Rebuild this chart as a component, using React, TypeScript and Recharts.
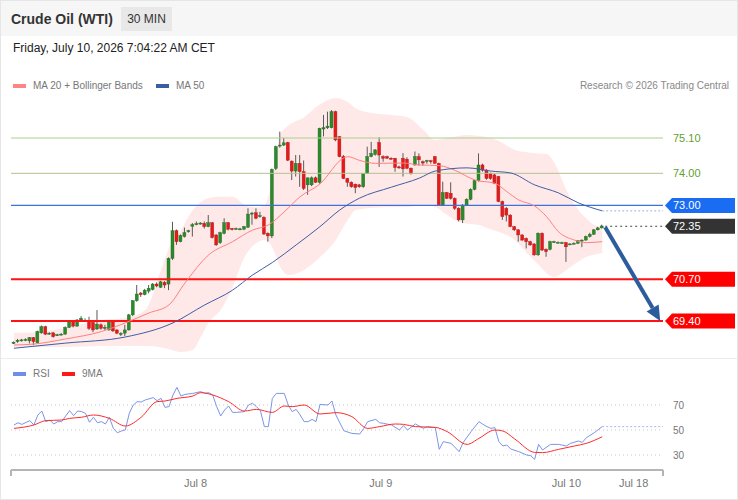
import React from 'react';
import { Area, Bar, ComposedChart, Line, LineChart, ReferenceLine, XAxis, YAxis } from 'recharts';

const FONT = '"Liberation Sans", Arial, Helvetica, sans-serif';

// 30 min candles, oldest first
const opens = [
  68.70, 68.76, 68.79, 68.80, 68.78, 68.88, 68.72, 69.03, 69.22, 69.00,
  69.03, 68.95, 68.97, 68.99, 69.20, 69.38, 69.24, 69.43, 69.42, 69.38,
  69.35, 69.15, 69.28, 69.18, 69.12, 69.38, 69.12, 68.98, 69.02, 69.12,
  69.59, 70.03, 70.27, 70.22, 70.33, 70.38, 70.55, 70.45, 70.60, 70.55,
  71.35, 72.21, 71.87, 72.03, 72.18, 72.35, 72.41, 72.43, 72.44, 72.34,
  72.46, 72.08, 71.84, 72.13, 72.46, 72.28, 72.27, 72.26, 72.26, 72.32,
  72.73, 72.77, 72.66, 72.63, 72.13, 72.05, 74.15, 74.86, 74.88, 74.96,
  74.38, 74.07, 74.31, 74.05, 73.64, 73.64, 73.86, 73.72, 75.38, 75.42,
  75.42, 75.92, 75.14, 74.52, 73.84, 73.72, 73.66, 73.64, 73.58, 74.00,
  74.52, 74.59, 74.96, 74.52, 74.52, 74.47, 74.47, 74.20, 74.47, 74.44,
  74.16, 74.26, 74.52, 74.36, 74.37, 74.39, 74.52, 74.31, 73.01, 73.40,
  73.38, 73.22, 72.91, 72.55, 73.01, 73.19, 73.50, 73.77, 74.26, 74.10,
  73.99, 73.95, 73.90, 73.12, 72.91, 72.70, 72.34, 72.24, 72.08, 71.97,
  71.87, 71.80, 71.46, 72.13, 71.63, 71.63, 71.87, 71.85, 71.84, 71.84,
  71.80, 71.82, 71.82, 71.90, 71.92, 72.03, 72.10, 72.24, 72.30,
];
const highs = [
  68.76, 68.84, 68.84, 68.86, 68.90, 68.90, 69.10, 69.26, 69.25, 69.05,
  69.05, 69.00, 69.02, 69.23, 69.41, 69.40, 69.46, 69.55, 69.48, 69.53,
  69.38, 69.74, 69.32, 69.28, 69.40, 69.40, 69.14, 69.05, 69.28, 69.62,
  70.05, 70.52, 70.30, 70.40, 70.52, 70.58, 70.60, 70.65, 70.64, 71.38,
  72.49, 72.25, 72.10, 72.31, 72.24, 72.45, 72.50, 72.48, 72.50, 72.70,
  72.48, 72.10, 72.18, 72.60, 72.48, 72.30, 72.31, 72.30, 72.36, 72.91,
  72.80, 72.91, 72.80, 72.66, 72.16, 74.15, 74.86, 75.30, 75.10, 74.98,
  74.40, 74.57, 74.57, 74.40, 73.86, 73.90, 73.90, 75.42, 75.82, 75.92,
  75.97, 75.95, 75.16, 74.57, 73.86, 73.75, 73.68, 73.67, 74.00, 74.83,
  74.98, 74.75, 75.12, 74.56, 74.55, 74.50, 74.48, 74.24, 74.63, 74.50,
  74.18, 74.68, 74.62, 74.40, 74.42, 74.42, 74.54, 74.33, 73.74, 73.42,
  73.72, 73.25, 72.94, 73.04, 73.22, 73.53, 73.80, 74.62, 74.30, 74.13,
  74.02, 73.98, 73.92, 73.15, 72.95, 72.72, 72.36, 72.26, 72.10, 72.00,
  71.90, 71.82, 72.16, 72.16, 71.66, 71.90, 71.90, 71.88, 71.87, 71.86,
  71.82, 71.85, 71.92, 71.94, 72.06, 72.15, 72.26, 72.33, 72.40,
];
const lows = [
  68.68, 68.72, 68.76, 68.77, 68.70, 68.65, 68.70, 69.00, 68.96, 68.97,
  68.88, 68.93, 68.95, 68.97, 69.18, 69.20, 69.22, 69.40, 69.37, 69.12,
  69.05, 69.12, 69.13, 69.12, 69.10, 69.06, 68.99, 68.93, 68.93, 69.10,
  69.55, 70.00, 70.15, 70.20, 70.26, 70.35, 70.45, 70.43, 70.42, 70.36,
  71.30, 71.77, 71.85, 72.00, 72.15, 72.03, 72.38, 72.40, 72.28, 72.32,
  71.97, 71.74, 71.80, 72.10, 72.22, 72.22, 72.24, 72.23, 72.23, 72.30,
  72.40, 72.57, 72.62, 72.08, 71.87, 71.98, 74.10, 74.80, 74.85, 74.38,
  73.79, 73.90, 73.58, 73.48, 73.33, 73.60, 73.70, 73.68, 75.15, 75.38,
  75.40, 75.00, 74.50, 73.82, 73.58, 73.55, 73.38, 73.55, 73.55, 73.98,
  74.50, 74.55, 74.20, 74.36, 74.45, 74.42, 74.05, 74.14, 73.90, 74.13,
  73.96, 74.24, 74.24, 74.24, 74.30, 74.30, 74.30, 73.00, 72.98, 73.20,
  73.18, 72.86, 72.50, 72.45, 72.98, 73.16, 73.47, 73.74, 74.05, 73.80,
  73.80, 73.66, 73.10, 72.55, 72.50, 72.32, 72.20, 71.87, 71.90, 71.66,
  71.74, 71.43, 71.43, 71.58, 71.40, 71.60, 71.84, 71.82, 71.81, 71.24,
  71.77, 71.79, 71.80, 71.70, 71.90, 72.00, 72.08, 72.22, 72.28,
];
const closes = [
  68.74, 68.80, 68.81, 68.82, 68.88, 68.76, 69.07, 69.22, 68.99, 69.02,
  68.91, 68.97, 68.99, 69.20, 69.38, 69.24, 69.43, 69.48, 69.40, 69.17,
  69.12, 69.30, 69.17, 69.20, 69.38, 69.09, 69.02, 69.01, 69.12, 69.59,
  70.03, 70.24, 70.22, 70.36, 70.42, 70.55, 70.49, 70.62, 70.52, 71.35,
  72.21, 71.87, 72.06, 72.15, 72.21, 72.40, 72.43, 72.45, 72.34, 72.46,
  72.00, 71.77, 72.15, 72.46, 72.26, 72.26, 72.28, 72.27, 72.34, 72.73,
  72.76, 72.60, 72.68, 72.11, 72.05, 74.12, 74.83, 74.88, 74.95, 74.41,
  74.07, 74.31, 74.05, 73.53, 73.86, 73.86, 73.72, 75.40, 75.42, 75.47,
  75.92, 75.04, 74.52, 73.84, 73.72, 73.58, 73.56, 73.58, 74.00, 74.52,
  74.62, 74.73, 74.57, 74.47, 74.47, 74.46, 74.18, 74.18, 74.14, 74.16,
  74.00, 74.52, 74.42, 74.32, 74.40, 74.36, 74.31, 73.01, 73.40, 73.22,
  73.22, 72.91, 72.55, 73.01, 73.19, 73.50, 73.77, 74.26, 74.10, 73.84,
  73.84, 73.69, 73.12, 72.65, 72.70, 72.34, 72.24, 72.08, 71.92, 71.87,
  71.77, 71.46, 72.13, 71.61, 71.56, 71.87, 71.87, 71.85, 71.84, 71.71,
  71.80, 71.82, 71.90, 71.92, 72.03, 72.10, 72.24, 72.30, 72.36,
];

// [candle index, value]
const ma20Points = [
  [0, 68.65], [5, 68.68], [13, 68.84], [22, 69.07], [28, 69.34], [34, 69.65], [39, 69.9], [43, 70.58],
  [49, 71.46], [55, 71.87], [60, 72.23], [64, 72.39], [68, 72.8], [72, 73.27], [77, 73.67], [83, 74.48],
  [84, 74.52], [87, 74.4], [91, 74.31], [98, 74.32], [102, 74.26], [107, 74.24], [111, 74.09], [116, 73.79],
  [121, 73.69], [124, 73.43], [127, 73.17], [131, 72.98], [134, 72.65], [137, 72.18], [141, 71.92], [144, 71.84],
  [148, 71.87],
];
const ma50Points = [
  [0, 68.55], [13, 68.71], [28, 68.9], [40, 69.34], [48, 69.9], [55, 70.36], [60, 70.83], [65, 71.22],
  [71, 71.77], [77, 72.34], [82, 72.86], [87, 73.23], [95, 73.57], [102, 73.85], [106, 74.07], [114, 74.17],
  [120, 74.07], [125, 74.01], [131, 73.64], [137, 73.39], [142, 73.08], [148, 72.83],
];
// [candle index, lower band, upper band]
const bandPoints = [
  [0, 68.59, 69.03], [6, 68.59, 69.05], [13, 68.59, 69.18], [22, 68.62, 69.43], [28, 68.62, 69.49],
  [33, 68.62, 69.74], [37, 68.58, 70.99], [39, 68.52, 71.67], [42, 68.43, 72.23], [45, 68.5, 72.86],
  [47, 68.9, 73.1], [49, 69.35, 73.23], [52, 69.74, 73.27], [55, 70.46, 73.27], [58, 71.39, 73.02],
  [61, 71.83, 72.94], [63, 71.92, 73.0], [65, 71.7, 73.8], [67, 71.08, 75.2], [69, 70.83, 75.48],
  [73, 70.99, 75.75], [77, 71.39, 76.15], [81, 71.92, 76.35], [84, 72.55, 76.22], [86, 72.86, 76.02],
  [90, 72.92, 75.88], [95, 72.95, 75.82], [99, 72.95, 75.75], [103, 73.01, 75.35], [106, 72.95, 75.04],
  [109, 72.7, 75.1], [112, 72.48, 75.16], [114, 72.43, 75.19], [117, 72.39, 75.16], [119, 72.3, 75.13],
  [122, 72.17, 75.01], [126, 71.92, 74.73], [129, 71.52, 74.66], [132, 71.15, 74.62], [134, 70.89, 74.6],
  [136, 70.77, 74.32], [139, 70.99, 73.48], [142, 71.25, 72.86], [144, 71.39, 72.6], [146, 71.47, 72.39],
  [148, 71.52, 72.34],
];
const rsiPoints = [
  [0, 54], [1, 55.8], [2, 54.5], [4, 57.5], [5, 54], [6, 62], [7, 65.2], [8, 56.7], [9, 58], [10, 54.8],
  [11, 56.7], [12, 56.7], [13, 61.2], [14, 65.5], [15, 61.5], [16, 65.2], [17, 64.7], [18, 63.3], [19, 56.2],
  [20, 60.2], [21, 55.8], [22, 56.7], [23, 54.8], [24, 60.2], [25, 51.3], [26, 47.8], [27, 49.2], [28, 50],
  [29, 63.3], [30, 70], [31, 72.7], [32, 72.4], [33, 74], [35, 75.9], [36, 73.5], [37, 75.3], [38, 68.1],
  [39, 68.7], [40, 78], [41, 84.1], [42, 77.2], [43, 78.5], [45, 79.3], [47, 80.7], [48, 79.3], [49, 79.9],
  [50, 78], [51, 68.7], [52, 61.2], [53, 66], [54, 69.2], [55, 64.1], [56, 64.1], [58, 64.7], [59, 70],
  [60, 71.4], [61, 68.7], [62, 65.5], [63, 52.7], [64, 52.7], [65, 75.3], [66, 79.3], [68, 79.3], [69, 70],
  [70, 64.7], [71, 66.5], [72, 62], [73, 56.7], [74, 56.7], [75, 58.5], [76, 56.7], [77, 70.5], [79, 70],
  [80, 73.2], [81, 62], [83, 49.4], [85, 47.3], [87, 46.8], [88, 51.3], [89, 56.7], [91, 58.5], [92, 55.8],
  [93, 55.3], [95, 54], [97, 50], [98, 53.5], [99, 50], [101, 54.8], [103, 51.3], [104, 52.7], [106, 51.9],
  [107, 34.5], [108, 40.7], [110, 39.3], [112, 32.7], [113, 39.9], [115, 48.7], [117, 56.7], [118, 54.5],
  [119, 52.7], [120, 51.3], [121, 51.9], [122, 40.7], [123, 37.2], [124, 38], [125, 34.8], [127, 32.7],
  [129, 30], [130, 29.5], [131, 26.5], [132, 38.5], [133, 34], [135, 38.5], [137, 38.5], [139, 37.2],
  [140, 39.3], [142, 41.2], [143, 40.1], [144, 43.8], [146, 47.8], [148, 52.7],
];
const rsiMaPoints = [
  [0, 51.3], [5, 54], [8, 57.5], [12, 58], [14, 59.3], [17, 60.2], [20, 62], [24, 59.3], [28, 53.2],
  [32, 60.2], [36, 72.7], [38, 73.2], [41, 75.3], [45, 77.2], [47, 79.9], [50, 78], [54, 72.7], [58, 65.2],
  [61, 66.5], [65, 64.1], [68, 69.2], [70, 68.7], [73, 70], [77, 62.8], [81, 63.9], [85, 60.7], [89, 51.3],
  [92, 52.7], [96, 54.8], [98, 54.5], [101, 52.7], [106, 52.1], [109, 48.7], [114, 38.5], [117, 43.3],
  [121, 50], [123, 49.2], [126, 42.8], [131, 32.1], [133, 31.9], [137, 34.5], [141, 37.2], [144, 39.3],
  [148, 44.6],
];

const resistances = [75.1, 74.0];
const pivot = 73.0;
const lastPrice = 72.35;
const supports = [70.7, 69.4];
const rsiLevels = [70, 50, 30];
const dayTicks = [45.7, 92.3, 139.0, 155.9];
const dayLabels = ['Jul 8', 'Jul 9', 'Jul 10', 'Jul 18'];
const arrowFrom = { x: 148.75, y: 72.32 };
const arrowTo = { x: 162.6, y: 69.4 };

const X_MIN = -0.755;
const X_MAX = 163.3;

const candleRows: any[] = closes.map((c, i) => ({ i, o: opens[i], h: highs[i], l: lows[i], c }));
ma20Points.forEach(([i, v]) => { candleRows[i].ma20 = v; });
ma50Points.forEach(([i, v]) => { candleRows[i].ma50 = v; });
bandPoints.forEach(([i, lo, up]) => { candleRows[i].band = [lo, up]; });

const rsiMap: Record<number, any> = {};
rsiPoints.forEach(([i, v]) => { rsiMap[i] = { ...(rsiMap[i] || { i }), rsi: v }; });
rsiMaPoints.forEach(([i, v]) => { rsiMap[i] = { ...(rsiMap[i] || { i }), ma: v }; });
const rsiRows = Object.values(rsiMap).sort((a: any, b: any) => a.i - b.i);

const lastMa50 = ma50Points[ma50Points.length - 1];
const lastRsi = rsiPoints[rsiPoints.length - 1];

function Candle(props: any) {
  const { x, y, width, height, payload } = props;
  if (!payload || x == null) return null;
  const { o, h, l, c } = payload;
  const top = Math.min(y, y + height);
  const span = Math.abs(height);
  const ppu = h > l ? span / (h - l) : 0;
  const cx = x + width / 2;
  const bTop = top + (h - Math.max(o, c)) * ppu;
  const bBot = top + (h - Math.min(o, c)) * ppu;
  const up = c >= o;
  return (
    <g>
      <line x1={cx} x2={cx} y1={top} y2={top + span} stroke="#5a5a5a" strokeWidth={1} />
      <rect x={x} y={bTop} width={width} height={Math.max(bBot - bTop, 1)} fill={up ? '#2b8a2b' : '#e31b1b'} stroke={up ? '#1e6a1e' : '#b51515'} strokeWidth={0.4} />
    </g>
  );
}

function tag(text: string, bg: string) {
  return (props: any) => {
    const vb = props.viewBox || {};
    const x0 = (vb.x || 0) + (vb.width || 0);
    const y = vb.y || 0;
    return (
      <g>
        <polygon points={`${x0 + 2},${y} ${x0 + 9},${y - 7.5} ${x0 + 72},${y - 7.5} ${x0 + 72},${y + 7.5} ${x0 + 9},${y + 7.5}`} fill={bg} />
        <text x={x0 + 10} y={y + 4} fontSize={11} fill="#fff" fontFamily={FONT}>{text}</text>
      </g>
    );
  };
}

function plain(text: string, color: string, size: number) {
  return (props: any) => {
    const vb = props.viewBox || {};
    const x0 = (vb.x || 0) + (vb.width || 0);
    return <text x={x0 + 10} y={(vb.y || 0) + size * 0.36} fontSize={size} fill={color} fontFamily={FONT}>{text}</text>;
  };
}

function Arrow(props: any) {
  const { x1, y1, x2, y2 } = props;
  const ang = Math.atan2(y2 - y1, x2 - x1);
  const head = 15;
  const half = 7;
  const bx = x2 - head * Math.cos(ang);
  const by = y2 - head * Math.sin(ang);
  const px = -Math.sin(ang) * half;
  const py = Math.cos(ang) * half;
  return (
    <g>
      <line x1={x1} y1={y1} x2={bx} y2={by} stroke="#2d5c9c" strokeWidth={4} />
      <polygon points={`${x2},${y2} ${bx + px},${by + py} ${bx - px},${by - py}`} fill="#2d5c9c" />
    </g>
  );
}

function DayTick(props: any) {
  const { x, y, payload } = props;
  const k = dayTicks.indexOf(payload.value);
  if (k < 0) return <line x1={x} x2={x} y1={y} y2={y + 6} stroke="#b5b5b5" strokeWidth={2} />;
  return <text x={x} y={y + 17} textAnchor="middle" fontSize={11} fill="#777" fontFamily={FONT}>{dayLabels[k]}</text>;
}

const legendText = { position: 'absolute', fontSize: 10, color: '#777', lineHeight: '12px' } as const;

export default function App() {
  return (
    <div style={{ position: 'absolute', left: 0, top: 0, width: 738, height: 500, background: '#fff', fontFamily: FONT, overflow: 'hidden' }}>
      <div style={{ position: 'absolute', left: 0, top: 0, width: 738, height: 36, background: '#f6f6f6' }} />
      <div style={{ position: 'absolute', left: 11, top: 11, fontSize: 14, fontWeight: 'bold', color: '#333', lineHeight: '16px' }}>Crude Oil (WTI)</div>
      <div style={{ position: 'absolute', left: 121, top: 7, width: 51, height: 24, background: '#e8e8e8', fontSize: 12, color: '#333', lineHeight: '24px', textAlign: 'center' }}>30 MIN</div>
      <div style={{ position: 'absolute', left: 13, top: 41, fontSize: 12, color: '#222', lineHeight: '14px' }}>Friday, July 10, 2026 7:04:22 AM CET</div>

      <div style={{ position: 'absolute', left: 13, top: 84, width: 13, height: 4, background: '#ff8585' }} />
      <div style={{ ...legendText, left: 33, top: 80 }}>MA 20 + Bollinger Bands</div>
      <div style={{ position: 'absolute', left: 156, top: 84, width: 13, height: 4, background: '#3a5ea6' }} />
      <div style={{ ...legendText, left: 176, top: 80 }}>MA 50</div>
      <div style={{ ...legendText, right: 9, top: 80, color: '#888' }}>Research © 2026 Trading Central</div>

      <div style={{ position: 'absolute', left: 0, top: 0 }}>
        <ComposedChart width={738} height={360} data={candleRows} margin={{ top: 95, right: 75, left: 11, bottom: 2 }}>
          <XAxis type="number" dataKey="i" domain={[X_MIN, X_MAX]} allowDataOverflow hide />
          <YAxis type="number" domain={[68.246, 76.44]} allowDataOverflow hide />
          <Area dataKey="band" type="monotone" stroke="none" fill="#ff5a5a" fillOpacity={0.14} connectNulls isAnimationActive={false} />
          <ReferenceLine y={resistances[0]} stroke="#a9d08c" strokeWidth={1} label={plain('75.10', '#5f9f2f', 11)} />
          <ReferenceLine y={resistances[1]} stroke="#b2c28f" strokeWidth={1} label={plain('74.00', '#5f9f2f', 11)} />
          <ReferenceLine y={pivot} stroke="#3b72dd" strokeWidth={1.2} label={tag('73.00', '#1a6df2')} />
          <ReferenceLine y={supports[0]} stroke="#ff1212" strokeWidth={2} label={tag('70.70', '#ff0000')} />
          <ReferenceLine y={supports[1]} stroke="#ff1212" strokeWidth={2} label={tag('69.40', '#ff0000')} />
          <Line dataKey="ma20" type="monotone" stroke="#ff8080" strokeWidth={1} dot={false} connectNulls isAnimationActive={false} />
          <Line dataKey="ma50" type="monotone" stroke="#3d5fa6" strokeWidth={1} dot={false} connectNulls isAnimationActive={false} />
          <ReferenceLine segment={[{ x: lastMa50[0], y: lastMa50[1] }, { x: X_MAX, y: lastMa50[1] }]} stroke="#9fb2e2" strokeDasharray="2 2" />
          <ReferenceLine segment={[{ x: arrowFrom.x, y: lastPrice }, { x: X_MAX, y: lastPrice }]} stroke="#444" strokeDasharray="2 3" label={tag('72.35', '#333333')} />
          <Bar dataKey={(d: any) => [d.l, d.h]} barSize={3} shape={<Candle />} isAnimationActive={false} />
          <ReferenceLine segment={[arrowFrom, arrowTo]} shape={<Arrow />} />
        </ComposedChart>
      </div>

      <div style={{ position: 'absolute', left: 0, top: 358, width: 738, height: 1, background: '#ececec' }} />
      <div style={{ position: 'absolute', left: 13, top: 372, width: 13, height: 4, background: '#6f8ee8' }} />
      <div style={{ ...legendText, left: 33, top: 368 }}>RSI</div>
      <div style={{ position: 'absolute', left: 62, top: 372, width: 13, height: 4, background: '#ff1a1a' }} />
      <div style={{ ...legendText, left: 82, top: 368 }}>9MA</div>

      <div style={{ position: 'absolute', left: 0, top: 360 }}>
        <LineChart width={738} height={140} data={rsiRows} margin={{ top: 25, right: 75, left: 11, bottom: 0 }}>
          <XAxis
            type="number"
            dataKey="i"
            domain={[X_MIN, X_MAX]}
            allowDataOverflow
            ticks={[X_MIN, ...dayTicks, X_MAX]}
            interval={0}
            tick={<DayTick />}
            tickLine={false}
            tickSize={0}
            tickMargin={0}
            axisLine={{ stroke: '#b5b5b5', strokeWidth: 2 }}
            height={30}
          />
          <YAxis type="number" domain={[18, 86]} allowDataOverflow hide />
          {rsiLevels.map((v) => (
            <ReferenceLine key={v} y={v} stroke="#c9c9c9" strokeDasharray="1 3" label={plain(String(v), '#777', 10)} />
          ))}
          <ReferenceLine segment={[{ x: lastRsi[0], y: lastRsi[1] }, { x: X_MAX, y: lastRsi[1] }]} stroke="#a8b8ef" strokeDasharray="2 2" />
          <Line dataKey="rsi" type="linear" stroke="#7b95e8" strokeWidth={1} dot={false} connectNulls isAnimationActive={false} />
          <Line dataKey="ma" type="monotone" stroke="#ff2a2a" strokeWidth={1} dot={false} connectNulls isAnimationActive={false} />
        </LineChart>
      </div>

      <div style={{ position: 'absolute', left: 0, top: 0, width: 738, height: 500, border: '1px solid #e6e6e6', boxSizing: 'border-box', pointerEvents: 'none' }} />
    </div>
  );
}
